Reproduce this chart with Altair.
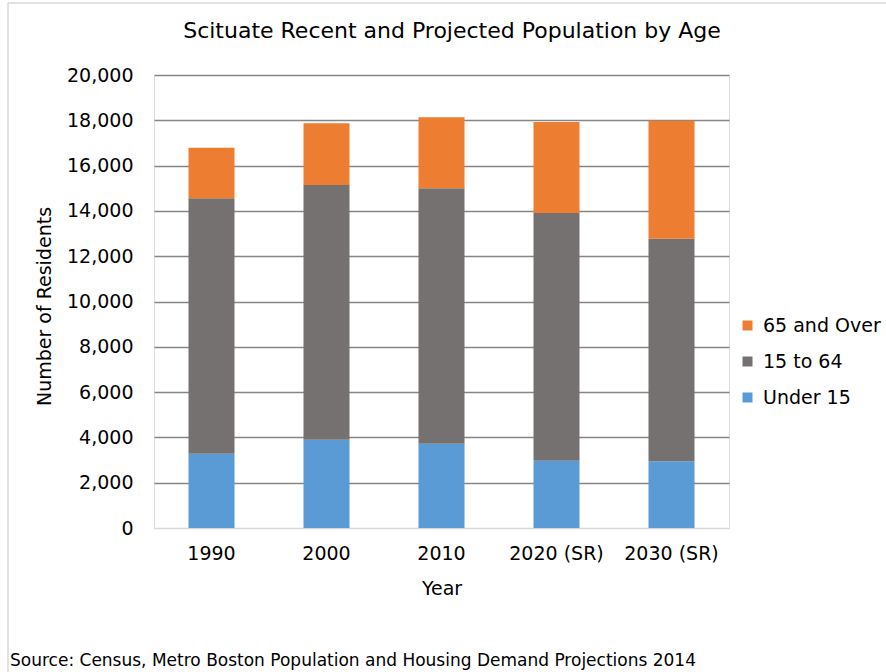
import altair as alt
import pandas as pd

years = ["1990", "2000", "2010", "2020 (SR)", "2030 (SR)"]
groups = ["65 and Over", "15 to 64", "Under 15"]
colors = ["#ED7D31", "#767171", "#5B9BD5"]
under15 = [3280, 3900, 3720, 2970, 2945]
age15to64 = [11280, 11240, 11280, 10940, 9825]
over65 = [2230, 2730, 3130, 4020, 5210]
title_text = "Scituate Recent and Projected Population by Age"
source_text = "Source: Census, Metro Boston Population and Housing Demand Projections 2014"

rows = []
for i, y in enumerate(years):
    rows.append({"Year": y, "Group": "Under 15", "Value": under15[i], "rank": 0})
    rows.append({"Year": y, "Group": "15 to 64", "Value": age15to64[i], "rank": 1})
    rows.append({"Year": y, "Group": "65 and Over", "Value": over65[i], "rank": 2})
df = pd.DataFrame(rows)

FONT = "DejaVu Sans"

bars = alt.Chart(df).mark_bar().encode(
    x=alt.X("Year:N", sort=years,
            scale=alt.Scale(paddingInner=0.6, paddingOuter=0.3),
            axis=alt.Axis(title="Year", labelAngle=0, ticks=False, domain=True,
                          domainColor="#d9d9d9", domainWidth=1,
                          labelPadding=16, labelFontSize=19, labelFont=FONT,
                          labelColor="#000000",
                          titleFontSize=19, titleFont=FONT, titleFontWeight="normal",
                          titleColor="#000000", titleY=60, titleBaseline="middle")),
    y=alt.Y("Value:Q", stack="zero",
            scale=alt.Scale(domain=[0, 20000], nice=False),
            axis=alt.Axis(title="Number of Residents", values=list(range(0, 20001, 2000)),
                          format=",.0f", ticks=False, domain=False,
                          grid=True,
                          gridColor={"condition": {"test": "datum.value === 0", "value": "#d9d9d9"}, "value": "#868686"},
                          gridWidth=1.4,
                          labelPadding=21, labelFontSize=19, labelFont=FONT,
                          labelColor="#000000",
                          titleFontSize=19, titleFont=FONT, titleFontWeight="normal",
                          titleColor="#000000", titleAngle=-90, titleX=-110, titleY=231,
                          titleAlign="center", titleBaseline="middle")),
    color=alt.Color("Group:N", scale=alt.Scale(domain=groups, range=colors),
                    legend=alt.Legend(title=None, orient="none", legendX=584, legendY=241,
                                      symbolType="square", symbolSize=100,
                                      symbolStrokeWidth=0, labelFontSize=19,
                                      labelFont=FONT, labelColor="#000000",
                                      rowPadding=16, labelOffset=6)),
    order=alt.Order("rank:Q", sort="ascending"),
)

ttl = alt.Chart(pd.DataFrame({"t": [title_text]})).mark_text(
    align="center", baseline="middle", fontSize=22, font=FONT, color="#000000"
).encode(x=alt.value(298), y=alt.value(-44), text="t:N")

src = alt.Chart(pd.DataFrame({"t": [source_text]})).mark_text(
    align="left", baseline="middle", fontSize=17, font=FONT, color="#000000"
).encode(x=alt.value(-144), y=alt.value(586), text="t:N")

top_line = alt.Chart(pd.DataFrame({"k": ["top"]})).mark_rule(color="#d9d9d9", strokeWidth=1.5).encode(
    x=alt.value(-146), x2=alt.value(740), y=alt.value(-72))
left_line = alt.Chart(pd.DataFrame({"k": ["left"]})).mark_rule(color="#d9d9d9", strokeWidth=1.5).encode(
    x=alt.value(-146), y=alt.value(-72), y2=alt.value(600))

chart = alt.layer(bars, ttl, src, top_line, left_line).properties(
    width=575, height=453,
    padding={"left": 154, "top": 75, "right": 157, "bottom": 144},
    autosize=alt.AutoSizeParams(type="none"),
).configure_view(stroke=None).configure(background="#ffffff")

chart.save("out.html", embed_options={"renderer": "svg", "actions": False})
